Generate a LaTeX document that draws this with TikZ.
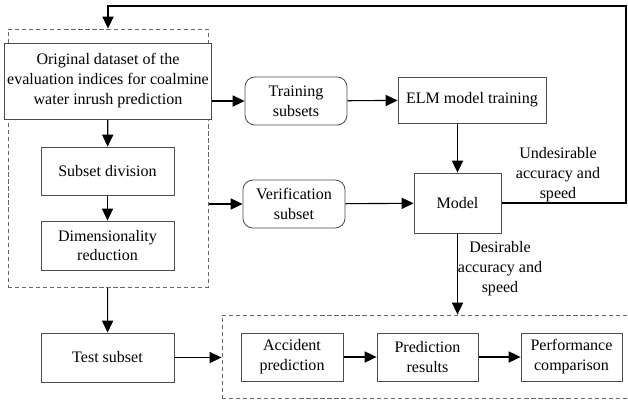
\documentclass[tikz,border=0pt]{standalone}
\usepackage{fontspec}
\setmainfont{Liberation Serif}
\usetikzlibrary{arrows.meta}
\pgfdeclarelayer{edgelayer}
\pgfdeclarelayer{nodelayer}
\pgfsetlayers{edgelayer,nodelayer,main}
\tikzset{font=\fontsize{11.4}{14.2}\selectfont}
\tikzstyle{none}=[inner sep=0pt]
\tikzstyle{box}=[rectangle,draw=black!70,fill=white,align=center,inner sep=2pt,line width=0.6pt]
\tikzstyle{rbox}=[box,rounded corners=7pt]
\tikzstyle{dashbox}=[rectangle,draw=black!60,dash pattern=on 3pt off 2pt,line width=0.6pt]
\tikzstyle{lbl}=[align=center,inner sep=0pt]
\tikzstyle{arr}=[draw=black,line width=0.8pt,-{Triangle[length=3mm,width=2.8mm]}]

\begin{document}
\begin{tikzpicture}[x=0.025cm,y=-0.025cm]
	\useasboundingbox (0,0) rectangle (628,404);
	\begin{pgfonlayer}{nodelayer}
		\node [style=dashbox, minimum width=5cm, minimum height=6.45cm] (0) at (108, 158) {};
		\node [style=dashbox, minimum width=10.7cm, minimum height=2.075cm] (1) at (436, 356.5) {};
		\node [style=box, minimum width=5cm, minimum height=1.9cm] (2) at (108, 81) {Original dataset of the\\evaluation indices for coalmine\\water inrush prediction};
		\node [style=box, minimum width=3.325cm, minimum height=1.2cm] (3) at (107.5, 171) {Subset division};
		\node [style=box, minimum width=3.325cm, minimum height=1.225cm] (4) at (107.5, 245.5) {Dimensionality\\reduction};
		\node [style=box, minimum width=3.325cm, minimum height=1.225cm] (5) at (107.5, 357.5) {Test subset};
		\node [style=rbox, minimum width=2.55cm, minimum height=1.2cm] (6) at (296, 101) {Training\\subsets};
		\node [style=rbox, minimum width=2.55cm, minimum height=1.2cm] (7) at (294, 204) {Verification\\subset};
		\node [style=box, minimum width=3.7cm, minimum height=1.15cm] (8) at (472, 100) {ELM model training};
		\node [style=box, minimum width=2.175cm, minimum height=1.5cm] (9) at (457.5, 203) {Model};
		\node [style=box, minimum width=2.55cm, minimum height=1.2cm] (10) at (292, 357) {Accident\\prediction};
		\node [style=box, minimum width=2.525cm, minimum height=1.2cm] (11) at (427.5, 357) {Prediction\\results};
		\node [style=box, minimum width=2.525cm, minimum height=1.2cm] (12) at (571.5, 357) {Performance\\comparison};
		\node [style=lbl] (13) at (558, 175) {Undesirable\\accuracy and\\speed};
		\node [style=lbl] (14) at (500, 269) {Desirable\\accuracy and\\speed};
		\node [style=none] (15) at (626, 203) {};
		\node [style=none] (16) at (626, 6) {};
		\node [style=none] (17) at (108, 6) {};
	\end{pgfonlayer}
	\begin{pgfonlayer}{edgelayer}
		\draw [style=arr] (2) to (3);
		\draw [style=arr] (3) to (4);
		\draw [style=arr] (0) to (5);
		\draw [style=arr] (2.east |- 6.west) to (6.west);
		\draw [style=arr] (0.east |- 7.west) to (7.west);
		\draw [style=arr] (6) to (8);
		\draw [style=arr] (7) to (9);
		\draw [style=arr] (8.south -| 9.north) to (9.north);
		\draw [style=arr] (9.south) to (9.south |- 1.north);
		\draw [style=arr] (5.east) to (5.east -| 1.west);
		\draw [style=arr] (10) to (11);
		\draw [style=arr] (11) to (12);
		\draw [style=arr] (9.east) to (15.center) to (16.center) to (17.center) to (0.north);
	\end{pgfonlayer}
\end{tikzpicture}
\end{document}
